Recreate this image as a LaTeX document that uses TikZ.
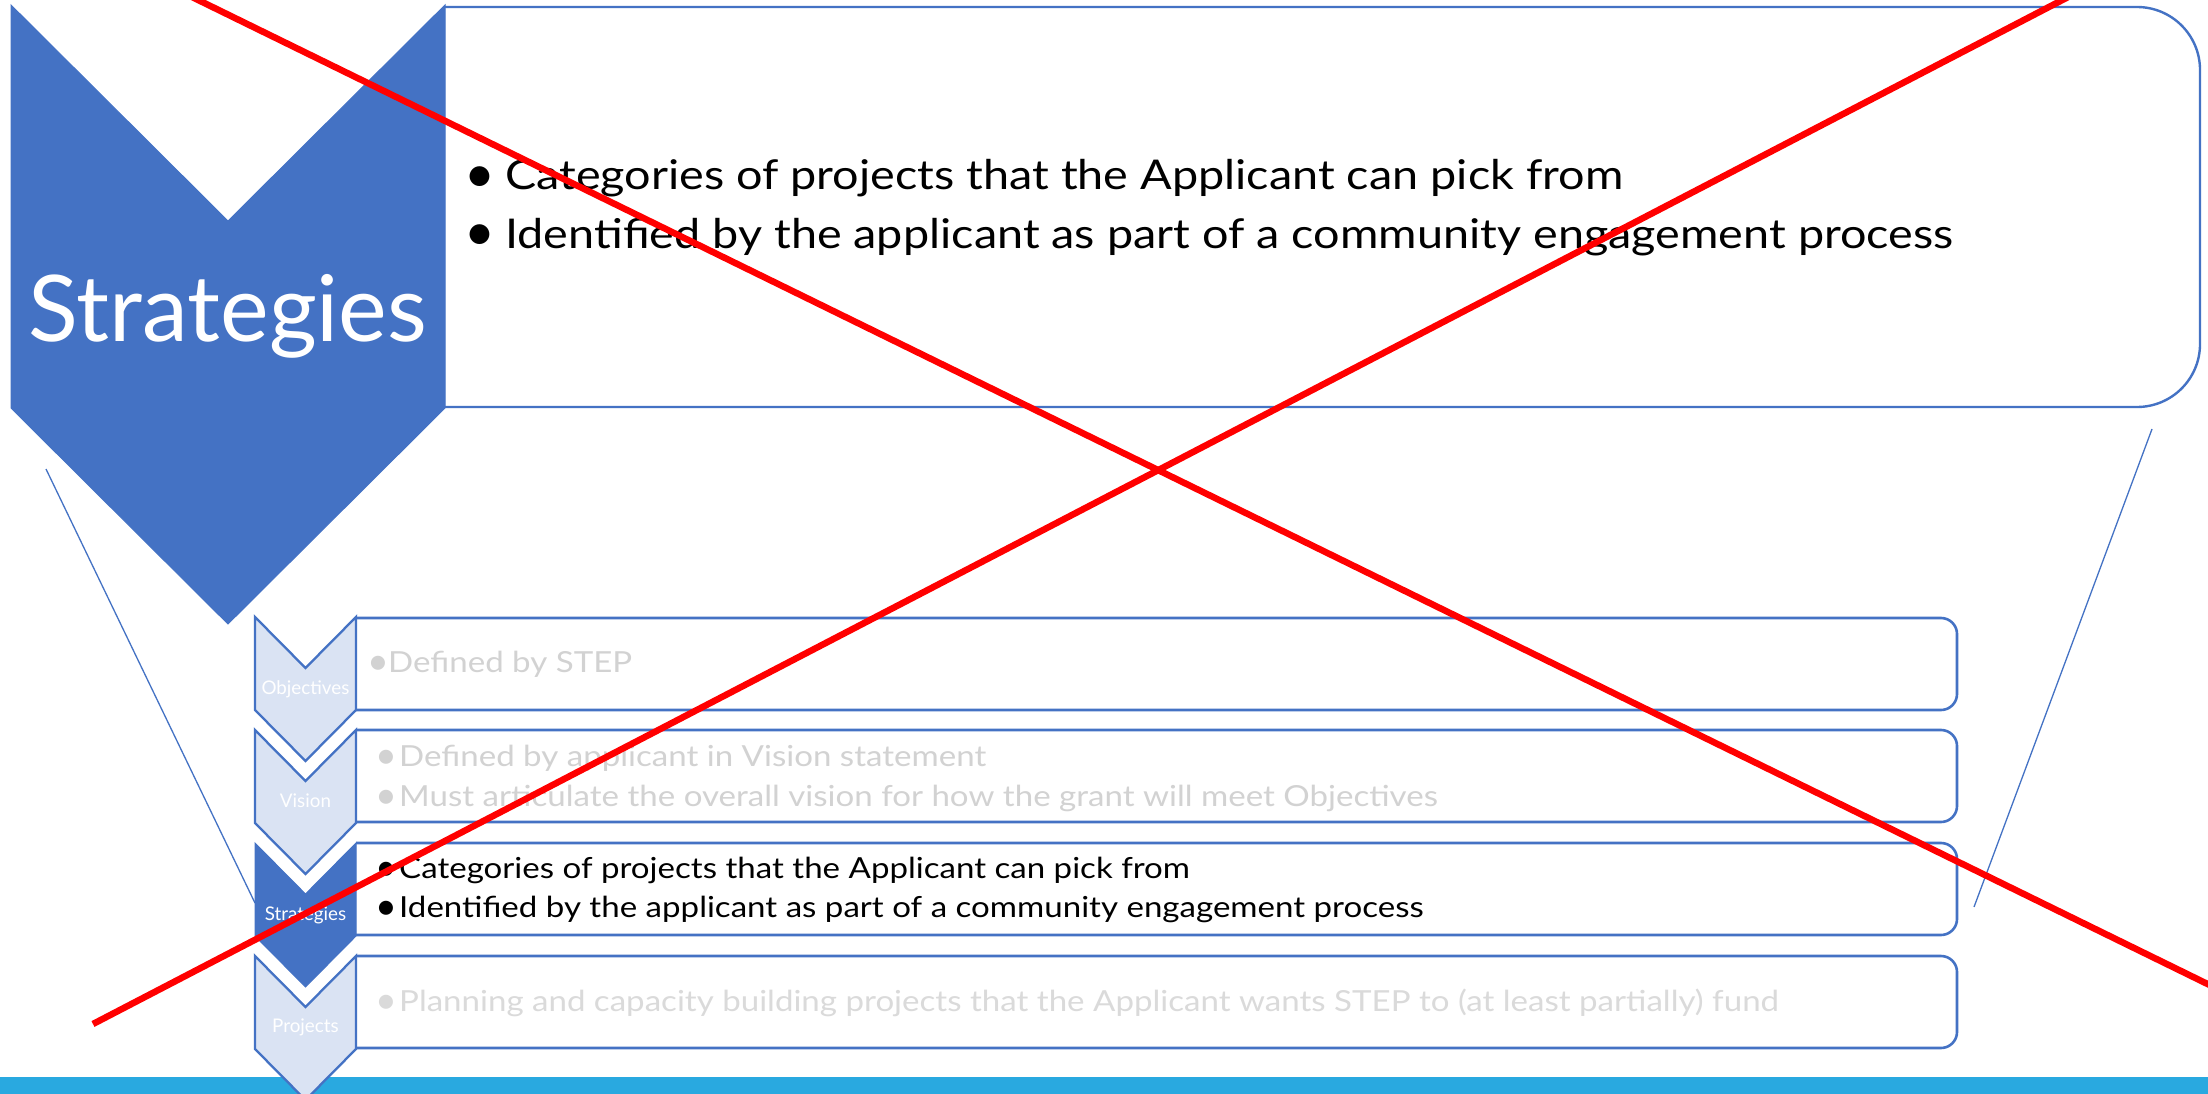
\documentclass[tikz,border=0pt]{standalone}
\usepackage{fontspec}
\setmainfont{Lato}
\newfontfamily\bodyfont[FakeStretch=1.14]{Lato}
\definecolor{ppblue}{HTML}{4472C4}
\definecolor{chevfill}{HTML}{DAE3F3}
\definecolor{band}{HTML}{29A9E0}
\definecolor{faded}{HTML}{D2D2D2}
\definecolor{fadedb}{HTML}{DADADA}
% bullet: box width, gap after box, text
\newcommand\bul[3]{\makebox[#1][c]{\raisebox{-0.07em}{\scalebox{1.3}{\rmfamily •}}}\hspace{#2}#3}
\begin{document}
\begin{tikzpicture}[x=1pt,y=-1pt,
  chevlight/.style={fill=chevfill,draw=ppblue,line width=2.3pt,line join=miter},
  chevdark/.style={fill=ppblue,draw=ppblue,line width=1pt,line join=miter},
  boxshape/.style={fill=white,draw=ppblue,line width=2.6pt,rounded corners=16pt},
  bigbox/.style={fill=white,draw=ppblue,line width=2.4pt,rounded corners=63pt},
  zoomline/.style={draw=ppblue,line width=1.3pt},
  cross/.style={draw=red,line width=6.5pt},
  bigtxt/.style={anchor=base west,inner sep=0pt,font=\bodyfont\fontsize{41}{49}\selectfont,text=black},
  smalltxt/.style={anchor=base west,inner sep=0pt,font=\bodyfont\fontsize{29}{35}\selectfont},
  chevlabel/.style={anchor=base,inner sep=0pt,font=\fontsize{18.8}{22}\selectfont,text=white},
  bigchevlabel/.style={anchor=base,inner sep=0pt,font=\fontsize{92}{100}\selectfont,text=white}]
\useasboundingbox (0,0) rectangle (2208,1094);
\clip (0,0) rectangle (2208,1094);
\fill[white] (0,0) rectangle (2208,1094);
% bottom band
\fill[band] (0,1077) rectangle (2208,1094);
% big box and chevron
\path[bigbox] (445,7) -- (2200,7) -- (2200,407) -- (445,407);
\path[chevdark] (11,5) -- (228,221) -- (445,5) -- (445,408) -- (228,624) -- (11,408) -- cycle;
\node[bigchevlabel] (bigS) at (228,341) {Strategies};
\node[bigtxt] (bt1) at (470,190) {\bul{19pt}{16pt}{Categories of projects that the Applicant can pick from}};
\node[bigtxt] (bt2) at (470,248) {\bul{19pt}{16pt}{Identified by the applicant as part of a community engagement process}};
% small boxes
\path[boxshape] (356,618) -- (1957,618) -- (1957,710) -- (356,710);
\path[boxshape] (356,730) -- (1957,730) -- (1957,822) -- (356,822);
\path[boxshape] (356,843) -- (1957,843) -- (1957,935) -- (356,935);
\path[boxshape] (356,956) -- (1957,956) -- (1957,1048) -- (356,1048);
% small chevrons
\path[chevlight] (255,617) -- (305.5,668) -- (356,617) -- (356,710) -- (305.5,761) -- (255,710) -- cycle;
\path[chevlight] (255,730) -- (305.5,781) -- (356,730) -- (356,823) -- (305.5,874) -- (255,823) -- cycle;
\path[chevdark] (255,843) -- (305.5,894) -- (356,843) -- (356,936) -- (305.5,987) -- (255,936) -- cycle;
\path[chevlight] (255,956) -- (305.5,1007) -- (356,956) -- (356,1049) -- (305.5,1100) -- (255,1049) -- cycle;
\node[chevlabel] (lo) at (305.5,694) {Objectives};
\node[chevlabel] (lv) at (305.5,807) {Vision};
\node[chevlabel] (ls) at (305.5,920) {Strategies};
\node[chevlabel] (lp) at (305.5,1032) {Projects};
% small box texts
\node[smalltxt,text=faded] (o1) at (370,672) {\bul{17pt}{1pt}{Defined by STEP}};
\node[smalltxt,text=faded] (v1) at (380,766) {\bul{13pt}{6pt}{Defined by applicant in Vision statement}};
\node[smalltxt,text=faded] (v2) at (380,806) {\bul{13pt}{6pt}{Must articulate the overall vision for how the grant will meet Objectives}};
\node[smalltxt,text=black] (s1) at (380,878) {\bul{13pt}{6pt}{Categories of projects that the Applicant can pick from}};
\node[smalltxt,text=black] (s2) at (380,917) {\bul{13pt}{6pt}{Identified by the applicant as part of a community engagement process}};
\node[smalltxt,text=fadedb] (p1) at (380,1011) {\bul{13pt}{6pt}{Planning and capacity building projects that the Applicant wants STEP to (at least partially) fund}};
% zoom lines
\coordinate (zl1) at (46,469);
\coordinate (zl2) at (255,903);
\coordinate (zr1) at (2152,429);
\coordinate (zr2) at (1974,907);
\draw[zoomline] (zl1) -- (zl2);
\draw[zoomline] (zr1) -- (zr2);
% red cross
\coordinate (ca1) at (190,-4);
\coordinate (ca2) at (2230,995);
\coordinate (cb1) at (93,1024);
\coordinate (cb2) at (2072,-5);
\draw[cross] (ca1) -- (ca2);
\draw[cross] (cb1) -- (cb2);
\end{tikzpicture}
\end{document}
